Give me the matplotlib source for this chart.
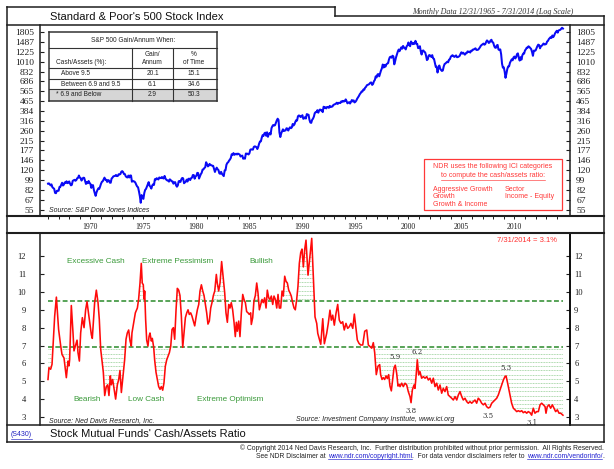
import matplotlib
matplotlib.use('Agg')
import matplotlib.pyplot as plt
import numpy as np
import pandas as pd
from matplotlib.lines import Line2D
from matplotlib.patches import Rectangle
from matplotlib.path import Path

plt.rcParams['font.family'] = ['Liberation Sans', 'DejaVu Sans']

# ---------------- data ----------------
sp500_close = [
    92.43,
    92.88, 91.22, 89.23, 91.06, 86.13, 84.74, 83.60, 77.10, 76.56, 80.20, 80.45, 80.33,
    86.61, 86.78, 90.20, 94.01, 89.08, 90.64, 94.75, 93.64, 96.71, 93.30, 94.00, 96.47,
    92.24, 89.36, 90.20, 97.59, 98.68, 99.58, 97.74, 98.86, 102.67, 103.41, 108.37, 103.86,
    103.01, 98.13, 101.51, 103.69, 103.46, 97.71, 91.83, 95.51, 93.12, 97.24, 93.81, 92.06,
    85.02, 89.50, 89.63, 81.52, 76.55, 72.72, 78.05, 81.52, 84.21, 83.25, 87.20, 92.15,
    95.88, 96.75, 100.31, 103.95, 99.63, 99.70, 95.58, 99.03, 98.34, 94.23, 93.99, 102.09,
    103.94, 106.57, 107.20, 107.67, 109.53, 107.14, 107.39, 111.09, 110.55, 111.58, 116.67, 118.05,
    116.03, 111.68, 111.52, 106.97, 104.95, 104.26, 108.22, 104.25, 108.43, 108.29, 95.96, 97.55,
    96.57, 96.22, 93.98, 90.31, 87.28, 86.00, 79.31, 72.15, 63.54, 73.90, 69.97, 68.56,
    76.98, 81.59, 83.36, 87.30, 91.15, 95.19, 88.75, 86.88, 83.87, 89.04, 91.24, 90.19,
    100.86, 99.71, 102.77, 101.64, 100.18, 104.28, 103.44, 102.91, 105.24, 102.90, 102.10, 107.46,
    102.03, 99.82, 98.42, 98.44, 96.12, 100.48, 98.85, 96.77, 96.53, 92.34, 94.83, 95.10,
    89.25, 87.04, 89.21, 96.83, 97.24, 95.53, 100.68, 103.29, 102.54, 93.15, 94.70, 96.11,
    99.93, 96.28, 101.59, 101.76, 99.08, 102.91, 103.81, 109.32, 109.32, 101.82, 106.16, 107.94,
    114.16, 113.66, 102.09, 106.29, 111.24, 114.24, 121.67, 122.38, 125.46, 127.47, 140.52, 135.76,
    129.55, 131.27, 136.00, 132.81, 132.59, 131.21, 130.92, 122.79, 116.18, 121.89, 126.35, 122.55,
    120.40, 113.11, 111.96, 116.44, 111.88, 109.61, 107.09, 119.51, 120.42, 133.71, 138.54, 140.64,
    145.30, 148.06, 152.96, 164.42, 162.39, 168.11, 162.56, 164.40, 166.07, 163.55, 166.40, 164.93,
    163.41, 157.06, 159.18, 160.05, 150.55, 153.18, 150.66, 166.68, 166.10, 166.09, 163.58, 167.24,
    179.63, 181.18, 180.66, 179.83, 189.55, 191.85, 190.92, 188.63, 182.08, 189.82, 202.17, 211.28,
    211.78, 226.92, 238.90, 235.52, 247.35, 250.84, 236.12, 252.93, 231.32, 243.98, 249.22, 242.17,
    274.08, 284.20, 291.70, 288.36, 290.10, 304.00, 318.66, 329.80, 321.83, 251.79, 230.30, 247.08,
    257.07, 267.82, 258.89, 261.33, 262.16, 273.50, 272.02, 261.52, 271.91, 278.97, 273.70, 277.72,
    297.47, 288.86, 294.87, 309.64, 320.52, 317.98, 346.08, 351.45, 349.15, 340.36, 345.99, 353.40,
    329.08, 331.89, 339.94, 330.80, 361.23, 358.02, 356.15, 322.56, 306.05, 304.00, 322.22, 330.22,
    343.93, 367.07, 375.22, 375.34, 389.83, 371.16, 387.81, 395.43, 387.86, 392.46, 375.22, 417.09,
    408.79, 412.70, 403.69, 414.95, 415.35, 408.14, 424.21, 414.03, 417.80, 418.68, 431.35, 435.71,
    438.78, 443.38, 451.67, 440.19, 450.19, 450.53, 448.13, 463.56, 458.93, 467.83, 461.79, 466.45,
    481.61, 467.14, 445.77, 450.91, 456.50, 444.27, 458.26, 475.49, 462.69, 472.35, 453.69, 459.27,
    470.42, 487.39, 500.71, 514.71, 533.40, 544.75, 562.06, 561.88, 584.41, 581.50, 605.37, 615.93,
    636.02, 640.43, 645.50, 654.17, 669.12, 670.63, 639.95, 651.99, 687.33, 705.27, 757.02, 740.74,
    786.16, 790.82, 757.12, 801.34, 848.28, 885.14, 954.29, 899.47, 947.28, 914.62, 955.40, 970.43,
    980.28, 1049.34, 1101.75, 1111.75, 1090.82, 1133.84, 1120.67, 957.28, 1017.01, 1098.67, 1163.63, 1229.23,
    1279.64, 1238.33, 1286.37, 1335.18, 1301.84, 1372.71, 1328.72, 1320.41, 1282.71, 1362.93, 1388.91, 1469.25,
    1394.46, 1366.42, 1498.58, 1452.43, 1420.60, 1454.60, 1430.83, 1517.68, 1436.51, 1429.40, 1314.95, 1320.28,
    1366.01, 1239.94, 1160.33, 1249.46, 1255.82, 1224.38, 1211.23, 1133.58, 1040.94, 1059.78, 1139.45, 1148.08,
    1130.20, 1106.73, 1147.39, 1076.92, 1067.14, 989.82, 911.62, 916.07, 815.28, 885.76, 936.31, 879.82,
    855.70, 841.15, 848.18, 916.92, 963.59, 974.50, 990.31, 1008.01, 995.97, 1050.71, 1058.20, 1111.92,
    1131.13, 1144.94, 1126.21, 1107.30, 1120.68, 1140.84, 1101.72, 1104.24, 1114.58, 1130.20, 1173.82, 1211.92,
    1181.27, 1203.60, 1180.59, 1156.85, 1191.50, 1191.33, 1234.18, 1220.33, 1228.81, 1207.01, 1249.48, 1248.29,
    1280.08, 1280.66, 1294.87, 1310.61, 1270.09, 1270.20, 1276.66, 1303.82, 1335.85, 1377.94, 1400.63, 1418.30,
    1438.24, 1406.82, 1420.86, 1482.37, 1530.62, 1503.35, 1455.27, 1473.99, 1526.75, 1549.38, 1481.14, 1468.36,
    1378.55, 1330.63, 1322.70, 1385.59, 1400.38, 1280.00, 1267.38, 1282.83, 1166.36, 968.75, 896.24, 903.25,
    825.88, 735.09, 797.87, 872.81, 919.14, 919.32, 987.48, 1020.62, 1057.08, 1036.19, 1095.63, 1115.10,
    1073.87, 1104.49, 1169.43, 1186.69, 1089.41, 1030.71, 1101.60, 1049.33, 1141.20, 1183.26, 1180.55, 1257.64,
    1286.12, 1327.22, 1325.83, 1363.61, 1345.20, 1320.64, 1292.28, 1218.89, 1131.42, 1253.30, 1246.96, 1257.60,
    1312.41, 1365.68, 1408.47, 1397.91, 1310.33, 1362.16, 1379.32, 1406.58, 1440.67, 1412.16, 1416.18, 1426.19,
    1498.11, 1514.68, 1569.19, 1597.57, 1630.74, 1606.28, 1685.73, 1632.97, 1681.55, 1756.54, 1805.81, 1848.36,
    1782.59, 1859.45, 1872.34, 1883.95, 1923.57, 1960.23, 1930.67,
]

cash_years = [
    1966.00, 1966.09, 1966.25, 1966.38, 1966.63, 1966.79, 1967.00, 1967.20, 1967.32, 1967.51,
    1967.73, 1967.89, 1967.98, 1968.04, 1968.20, 1968.36, 1968.45, 1968.58, 1968.74, 1968.83,
    1968.96, 1969.08, 1969.24, 1969.40, 1969.55, 1969.68, 1969.80, 1969.93, 1970.09, 1970.18,
    1970.40, 1970.56, 1970.72, 1970.84, 1970.97, 1971.09, 1971.22, 1971.35, 1971.50, 1971.63,
    1971.75, 1971.88, 1971.97, 1972.10, 1972.26, 1972.38, 1972.54, 1972.67, 1972.79, 1972.92,
    1973.08, 1973.23, 1973.36, 1973.48, 1973.61, 1973.74, 1973.86, 1973.92, 1974.11, 1974.24,
    1974.43, 1974.55, 1974.68, 1974.80, 1974.89, 1974.99, 1975.06, 1975.12, 1975.21, 1975.31,
    1975.43, 1975.53, 1975.62, 1975.75, 1975.84, 1975.97, 1976.06, 1976.19, 1976.31, 1976.44,
    1976.57, 1976.69, 1976.82, 1976.94, 1977.07, 1977.20, 1977.32, 1977.45, 1977.58, 1977.70,
    1977.83, 1977.95, 1978.08, 1978.20, 1978.33, 1978.45, 1978.58, 1978.71, 1978.83, 1978.96,
    1979.09, 1979.21, 1979.33, 1979.46, 1979.58, 1979.71, 1979.84, 1979.96, 1980.09, 1980.22,
    1980.34, 1980.47, 1980.60, 1980.72, 1980.85, 1980.97, 1981.09, 1981.22, 1981.35, 1981.47,
    1981.60, 1981.73, 1981.88, 1981.97, 1982.10, 1982.23, 1982.38, 1982.54, 1982.67, 1982.79,
    1982.92, 1983.05, 1983.17, 1983.29, 1983.42, 1983.55, 1983.67, 1983.77, 1983.86, 1983.99,
    1984.11, 1984.24, 1984.37, 1984.49, 1984.62, 1984.74, 1984.87, 1984.99, 1985.12, 1985.18,
    1985.31, 1985.43, 1985.56, 1985.69, 1985.81, 1985.94, 1986.07, 1986.19, 1986.31, 1986.44,
    1986.57, 1986.69, 1986.82, 1986.94, 1987.07, 1987.20, 1987.32, 1987.45, 1987.58, 1987.70,
    1987.82, 1987.95, 1988.08, 1988.20, 1988.33, 1988.45, 1988.58, 1988.71, 1988.83, 1988.95,
    1989.08, 1989.21, 1989.33, 1989.46, 1989.58, 1989.71, 1989.84, 1989.96, 1990.09, 1990.22,
    1990.34, 1990.53, 1990.88, 1991.03, 1991.19, 1991.35, 1991.45, 1991.73, 1991.92, 1992.07,
    1992.29, 1992.44, 1992.60, 1992.73, 1992.86, 1993.01, 1993.17, 1993.33, 1993.48, 1993.64,
    1993.80, 1993.95, 1994.11, 1994.27, 1994.42, 1994.58, 1994.75, 1994.90, 1995.06, 1995.18,
    1995.34, 1995.50, 1995.69, 1995.88, 1996.07, 1996.22, 1996.38, 1996.54, 1996.69, 1996.82,
    1996.97, 1997.13, 1997.29, 1997.38, 1997.51, 1997.63, 1997.76, 1997.89, 1998.01, 1998.14,
    1998.26, 1998.39, 1998.52, 1998.64, 1998.76, 1998.89, 1999.02, 1999.14, 1999.21, 1999.37,
    1999.52, 1999.68, 1999.84, 1999.99, 2000.15, 2000.25, 2000.37, 2000.53, 2000.62, 2000.72,
    2000.84, 2000.97, 2001.09, 2001.25, 2001.41, 2001.57, 2001.73, 2001.88, 2002.04, 2002.20,
    2002.35, 2002.51, 2002.67, 2002.82, 2002.98, 2003.14, 2003.29, 2003.45, 2003.61, 2003.76,
    2003.92, 2004.08, 2004.24, 2004.40, 2004.56, 2004.71, 2004.87, 2005.03, 2005.18, 2005.34,
    2005.50, 2005.65, 2005.81, 2005.97, 2006.12, 2006.28, 2006.44, 2006.59, 2006.75, 2006.91,
    2007.07, 2007.23, 2007.38, 2007.54, 2007.70, 2007.86, 2008.01, 2008.17, 2008.33, 2008.48,
    2008.64, 2008.80, 2008.96, 2009.11, 2009.21, 2009.33, 2009.46, 2009.58, 2009.74, 2009.90,
    2010.06, 2010.22, 2010.37, 2010.53, 2010.69, 2010.84, 2011.00, 2011.16, 2011.31, 2011.47,
    2011.63, 2011.78, 2011.94, 2012.10, 2012.26, 2012.42, 2012.57, 2012.73, 2012.89, 2012.98,
    2013.10, 2013.26, 2013.42, 2013.58, 2013.74, 2013.89, 2014.05, 2014.21, 2014.37, 2014.58,
]
cash_ratio = [
    5.10, 5.76, 5.67, 5.95, 8.65, 9.71, 7.90, 6.97, 6.50, 6.30,
    5.20, 6.13, 5.86, 6.20, 9.24, 7.70, 6.70, 6.97, 7.30, 6.60,
    6.13, 7.70, 8.56, 8.00, 9.00, 9.45, 8.90, 8.30, 7.60, 7.40,
    9.40, 10.10, 9.40, 8.46, 6.80, 6.20, 5.50, 4.20, 4.70, 4.80,
    4.20, 5.30, 4.80, 5.10, 4.46, 4.00, 4.80, 5.10, 5.60, 4.37,
    5.30, 6.20, 7.35, 7.70, 7.87, 7.25, 6.97, 7.70, 8.37, 8.83,
    9.10, 9.60, 10.50, 11.60, 10.50, 10.40, 9.60, 10.05, 8.46, 7.30,
    6.97, 7.50, 7.70, 7.25, 7.40, 6.90, 6.20, 5.50, 5.10, 4.70,
    4.55, 4.70, 4.50, 4.90, 5.85, 6.20, 6.40, 6.60, 6.97, 7.90,
    8.00, 7.35, 9.00, 10.20, 10.10, 9.80, 8.65, 6.90, 7.70, 8.56,
    8.83, 9.00, 8.74, 8.83, 8.65, 8.37, 8.10, 8.56, 9.00, 9.30,
    10.05, 10.40, 10.05, 9.80, 9.30, 8.83, 8.20, 8.37, 9.10, 9.40,
    9.80, 10.05, 10.98, 10.50, 10.05, 10.50, 11.70, 10.70, 9.95, 8.83,
    8.30, 9.30, 9.10, 9.40, 9.00, 8.30, 7.50, 8.30, 7.80, 8.37,
    7.50, 8.83, 9.86, 9.58, 9.40, 8.90, 8.83, 8.74, 8.83, 8.18,
    8.56, 9.50, 9.80, 10.50, 9.95, 9.00, 9.30, 9.58, 9.40, 9.67,
    9.10, 10.10, 9.67, 9.58, 9.77, 9.30, 9.77, 9.58, 9.10, 9.86,
    9.10, 9.10, 10.05, 9.77, 10.88, 10.60, 10.50, 10.10, 9.95, 9.77,
    9.40, 9.10, 9.00, 9.58, 10.30, 11.60, 12.20, 12.40, 11.40, 12.40,
    12.90, 10.94, 13.00, 10.90, 8.60, 8.24, 7.68, 7.07, 8.50, 7.10,
    7.68, 8.24, 8.98, 8.42, 8.70, 8.14, 8.80, 9.30, 8.42, 8.24,
    8.33, 7.87, 8.24, 7.96, 8.05, 8.24, 7.96, 8.76, 7.96, 7.31,
    7.12, 7.03, 7.03, 7.80, 7.87, 7.03, 6.94, 6.85, 7.16, 6.60,
    5.37, 5.84, 5.93, 5.37, 5.10, 5.20, 5.10, 5.30, 5.15, 5.37,
    4.73, 4.46, 5.10, 5.74, 5.90, 5.46, 4.73, 4.82, 4.70, 4.89,
    4.70, 4.89, 4.79, 4.42, 4.14, 3.80, 4.51, 4.79, 4.60, 5.26,
    6.20, 5.35, 5.54, 5.17, 5.26, 5.17, 5.26, 5.07, 5.17, 4.89,
    5.17, 4.70, 4.89, 4.51, 4.79, 4.33, 4.60, 4.42, 4.70, 4.23,
    4.14, 4.05, 3.95, 4.14, 3.95, 4.23, 4.42, 4.14, 3.95, 4.05,
    3.86, 3.77, 3.86, 3.77, 3.86, 3.95, 3.77, 4.05, 3.95, 3.77,
    3.68, 3.77, 3.58, 3.50, 3.55, 3.77, 3.86, 3.95, 4.05, 4.23,
    4.51, 4.79, 5.07, 5.26, 5.30, 4.98, 4.60, 4.23, 3.77, 3.49,
    3.40, 3.30, 3.35, 3.30, 3.35, 3.24, 3.30, 3.21, 3.30, 3.24,
    3.10, 3.49, 3.21, 3.30, 3.30, 3.68, 3.77, 3.68, 3.58, 3.21,
    3.58, 3.68, 3.49, 3.68, 3.49, 3.30, 3.40, 3.21, 3.21, 3.10,
]

sp_ticks = [55, 67, 82, 99, 120, 146, 177, 215, 260, 316, 384, 465, 565, 686, 832, 1010, 1225, 1487, 1805]
cash_ticks = [3, 4, 5, 6, 7, 8, 9, 10, 11, 12]
year_labels = [1970, 1975, 1980, 1985, 1990, 1995, 2000, 2005, 2010]
upper_threshold = 9.5
lower_threshold = 6.9

table_rows = ["Above 9.5", "Between 6.9 and 9.5", "* 6.9 and Below"]
table_gain = ["20.1", "6.1", "2.9"]
table_time = ["15.1", "34.6", "50.3"]

extremes_labels = ["5.9", "6.2", "3.8", "5.3", "3.5", "3.1"]
extremes_years = [1998.76, 2000.84, 2000.25, 2009.21, 2007.54, 2011.63]
extremes_values = [5.9, 6.2, 3.8, 5.3, 3.5, 3.1]
extremes_side = [1, 1, -1, 1, -1, -1]

# ---------------- figure ----------------
W, H = 614, 469
fig = plt.figure(figsize=(W / 100, H / 100), dpi=100)
renderer = fig.canvas.get_renderer()

def fx(px):
    return px / W

def fy(py):
    return 1 - py / H

def seg(x0, y0, x1, y1, lw=1.0, color='#1e1e1e', **kw):
    fig.add_artist(Line2D([fx(x0), fx(x1)], [fy(y0), fy(y1)], transform=fig.transFigure,
                          lw=lw, color=color, solid_capstyle='projecting', **kw))

def txt(px, py, s, **kw):
    return fig.text(fx(px), fy(py), s, **kw)

def measure(s, **kw):
    t1 = fig.text(0, 0, '|' + s + '|', **kw)
    w1 = t1.get_window_extent(renderer).width
    t1.remove()
    t2 = fig.text(0, 0, '||', **kw)
    w2 = t2.get_window_extent(renderer).width
    t2.remove()
    return w1 - w2

def underline(t, color, lw=0.5, dy=1.3):
    bb = t.get_window_extent(renderer)
    py = H - bb.y0 + dy
    seg(bb.x0, py, bb.x1, py, lw=lw, color=color)

def rich_line(x_right, py, parts, **kw):
    full = ''.join(p[0] for p in parts)
    total = measure(full, **kw)
    x0 = x_right - total
    prefix = ''
    for s, color, ul in parts:
        off = measure(prefix, **kw) if prefix else 0.0
        txt(x0 + off, py, s, color=color, ha='left', va='baseline', **kw)
        if ul:
            w = measure(s, **kw)
            seg(x0 + off, py + 1.2, x0 + off + w, py + 1.2, lw=0.45, color=color)
        prefix += s

dates = pd.date_range('1965-12-31', periods=len(sp500_close), freq='ME')
sp_years = dates.year + dates.dayofyear / np.where(dates.is_leap_year, 366, 365)

XMIN, XMAX = 1965.245, 2015.245
serif = 'Liberation Serif'

# ---------------- top panel ----------------
ax1 = fig.add_axes([fx(40), fy(216), (570 - 40) / W, (216 - 25) / H])
ax1.plot(sp_years, sp500_close, color='#0a0af5', lw=1.45)
ax1.set_yscale('log')
ax1.set_ylim(49, 2070)
ax1.set_xlim(XMIN, XMAX)
ax1.yaxis.set_minor_locator(matplotlib.ticker.NullLocator())
ax1.set_yticks(sp_ticks)
ax1.set_yticklabels([str(v) for v in sp_ticks], fontfamily=serif)
ax1.tick_params(axis='y', which='major', direction='in', length=3, width=0.8,
                left=True, right=True, labelleft=True, labelright=True,
                labelsize=6.8, pad=4.5, colors='#1e1e1e')
ax1.set_xticks(year_labels)
ax1.set_xticklabels([str(y) for y in year_labels], fontfamily=serif)
ax1.set_xticks(list(range(1966, 2015)), minor=True)
ax1.tick_params(axis='x', which='both', direction='out', length=2.2, width=0.7,
                labelsize=5.6, pad=2.5, colors='#1e1e1e')
for s in ['top', 'bottom']:
    ax1.spines[s].set_visible(False)
for s in ['left', 'right']:
    ax1.spines[s].set_linewidth(1.1)
    ax1.spines[s].set_color('#1e1e1e')
ax1.text(0.017, 0.012, 'Source: S&P Dow Jones Indices', transform=ax1.transAxes,
         fontsize=5.0, style='italic', color='#222222', va='bottom')

# ---------------- bottom panel ----------------
ax2 = fig.add_axes([fx(40), fy(425), (570 - 40) / W, (425 - 233) / H])
YMIN2, YMAX2 = 2.55, 13.3
cy = np.array(cash_years)
cr = np.array(cash_ratio)

# regions beyond the thresholds, shaded with dotted horizontal rules
low_poly = ax2.fill_between(cy, cr, lower_threshold, where=cr < lower_threshold,
                            interpolate=True, facecolor='none', edgecolor='none', linewidth=0)
high_poly = ax2.fill_between(cy, upper_threshold, cr, where=cr > upper_threshold,
                             interpolate=True, facecolor='none', edgecolor='none', linewidth=0)
rule_levels = np.arange(YMIN2, YMAX2, 0.235)
for poly in (low_poly, high_poly):
    paths = poly.get_paths()
    if not paths:
        continue
    clip = Path.make_compound_path(*paths)
    rules = ax2.hlines(rule_levels, XMIN, XMAX, colors='#8fcc8f',
                       linestyles=(0, (1.2, 0.9)), lw=0.55)
    rules.set_clip_path(clip, ax2.transData)

ax2.hlines([upper_threshold, lower_threshold], cy[0], cy[-1], colors='#2a8a2a',
           linestyles=(0, (3.2, 1.6)), lw=1.1)
ax2.plot(cy, cr, color='#ff0a0a', lw=1.15)
ax2.set_xlim(XMIN, XMAX)
ax2.set_ylim(YMIN2, YMAX2)
ax2.set_xticks([])
ax2.set_yticks(cash_ticks)
ax2.set_yticklabels([str(v) for v in cash_ticks], fontfamily=serif)
ax2.tick_params(axis='y', direction='in', length=3, width=0.8, left=True, right=False,
                labelleft=True, labelright=False, labelsize=6.2, pad=10, colors='#1e1e1e')
for s in ['top', 'bottom']:
    ax2.spines[s].set_visible(False)
for s in ['left', 'right']:
    ax2.spines[s].set_linewidth(1.1)
    ax2.spines[s].set_color('#1e1e1e')
ax2r = ax2.twinx()
ax2r.set_ylim(YMIN2, YMAX2)
ax2r.set_yticks(cash_ticks)
ax2r.set_yticklabels([str(v) for v in cash_ticks], fontfamily=serif)
ax2r.tick_params(axis='y', direction='in', length=3, width=0.8, labelsize=6.2, pad=3,
                 colors='#1e1e1e')
for s in ['top', 'bottom', 'left']:
    ax2r.spines[s].set_visible(False)
ax2r.spines['right'].set_linewidth(1.1)

for lab, xv, yv, side in zip(extremes_labels, extremes_years, extremes_values, extremes_side):
    ax2.annotate(lab, (xv, yv), xytext=(0, 3.0 * side), textcoords='offset points',
                 ha='center', va='bottom' if side > 0 else 'top', fontsize=5.0,
                 fontfamily='DejaVu Serif', color='#333333')

green = '#3a9a3a'
for s, px, py in [("Excessive Cash", 67, 261), ("Extreme Pessimism", 142, 261), ("Bullish", 249, 261),
                  ("Bearish", 73, 399), ("Low Cash", 128, 399), ("Extreme Optimism", 197, 399)]:
    txt(px, py, s, fontsize=5.9, color=green, va='center', ha='left')

txt(557, 241, '7/31/2014 = 3.1%', fontsize=5.5, color='#ff3030', ha='right', va='center')
txt(49, 421, 'Source: Ned Davis Research, Inc.', fontsize=5.0, style='italic',
    color='#222222', va='center')
txt(454, 419.5, 'Source: Investment Company Institute, www.ici.org', fontsize=5.0,
    style='italic', color='#222222', va='center', ha='right')

# ---------------- frame ----------------
LW = 1.1
seg(7, 7, 7, 442, lw=LW)
seg(604, 16, 604, 442, lw=LW)
seg(7, 442, 604, 442, lw=LW)
seg(7, 7, 335, 7, lw=LW)
seg(335, 7, 335, 16, lw=LW)
seg(335, 16, 604, 16, lw=LW)
seg(7, 25, 604, 25, lw=LW)
seg(7, 216, 604, 216, lw=1.5)
seg(7, 233, 604, 233, lw=1.5)
seg(7, 425, 604, 425, lw=LW)

txt(50, 17.5, "Standard & Poor's 500 Stock Index", fontsize=8.0, va='center', color='#111111')
txt(573, 11.5, 'Monthly Data 12/31/1965 - 7/31/2014 (Log Scale)', fontsize=5.8,
    style='italic', fontfamily=serif, ha='right', va='center', color='#333333')
txt(50, 434, "Stock Mutual Funds' Cash/Assets Ratio", fontsize=8.0, va='center', color='#111111')
t = txt(11, 434.5, '(S430)', fontsize=5.0, color='#2020c0', va='center')
underline(t, '#2020c0', lw=0.45, dy=0.8)

# ---------------- table ----------------
tc = '#333333'
fig.add_artist(Rectangle((fx(49), fy(101)), (217 - 49) / W, (101 - 89) / H,
                         transform=fig.transFigure, facecolor='#d6d6d6', edgecolor='none'))
seg(49, 32, 217, 32, lw=1.1, color=tc)
seg(49, 101, 217, 101, lw=1.1, color=tc)
seg(49, 32, 49, 101, lw=1.1, color=tc)
seg(217, 32, 217, 101, lw=1.1, color=tc)
seg(49, 48, 217, 48, lw=0.8, color=tc)
seg(49, 68, 217, 68, lw=0.8, color=tc)
seg(49, 78.5, 217, 78.5, lw=0.8, color=tc)
seg(49, 89, 217, 89, lw=0.8, color=tc)
seg(132, 48, 132, 101, lw=0.8, color=tc)
seg(173, 48, 173, 101, lw=0.8, color=tc)
TS = 4.7
txt(133, 40.5, 'S&P 500 Gain/Annum When:', fontsize=TS, ha='center', va='center', color='#222222')
txt(56, 62, 'Cash/Assets (%):', fontsize=TS, ha='left', va='center', color='#222222')
txt(152.5, 55, 'Gain/', fontsize=TS, ha='center', va='center', color='#222222')
txt(152.5, 62, 'Annum', fontsize=TS, ha='center', va='center', color='#222222')
txt(194, 55, '%', fontsize=TS, ha='center', va='center', color='#222222')
txt(194, 62, 'of Time', fontsize=TS, ha='center', va='center', color='#222222')
for lab, g, p, py, px in zip(table_rows, table_gain, table_time, [73.5, 84, 95], [61, 61, 56]):
    txt(px, py, lab, fontsize=TS, ha='left', va='center', color='#222222')
    txt(152.5, py, g, fontsize=TS, ha='center', va='center', color='#222222')
    txt(194, py, p, fontsize=TS, ha='center', va='center', color='#222222')

# ---------------- red box ----------------
red = '#ff3838'
fig.add_artist(Rectangle((fx(424), fy(210)), (562 - 424) / W, (210 - 159) / H,
                         transform=fig.transFigure, facecolor='white', edgecolor=red, lw=0.9))
RS = 5.0
txt(493, 167, 'NDR uses the following ICI categories', fontsize=RS, color=red, ha='center', va='center')
t = txt(493, 175.5, 'to compute the cash/assets ratio:', fontsize=RS, color=red, ha='center', va='center')
underline(t, red, lw=0.45, dy=0.6)
for s, py in [('Aggressive Growth', 189), ('Growth', 196.5), ('Growth & Income', 204)]:
    txt(433, py, s, fontsize=RS, color=red, ha='left', va='center')
for s, py in [('Sector', 189), ('Income - Equity', 196.5)]:
    txt(505, py, s, fontsize=RS, color=red, ha='left', va='center')

# ---------------- copyright ----------------
blue = '#2020d0'
rich_line(604, 450, [("\u00a9 Copyright 2014 Ned Davis Research, Inc.  Further distribution prohibited "
                      "without prior permission.  All Rights Reserved.", '#222222', False)],
          fontsize=4.9)
rich_line(604, 458, [("See NDR Disclaimer at ", '#222222', False),
                     ("www.ndr.com/copyright.html", blue, True),
                     (".  For data vendor disclaimers refer to ", '#222222', False),
                     ("www.ndr.com/vendorinfo/", blue, True),
                     (".", '#222222', False)], fontsize=4.9)

fig.savefig('out.png', dpi=100)
